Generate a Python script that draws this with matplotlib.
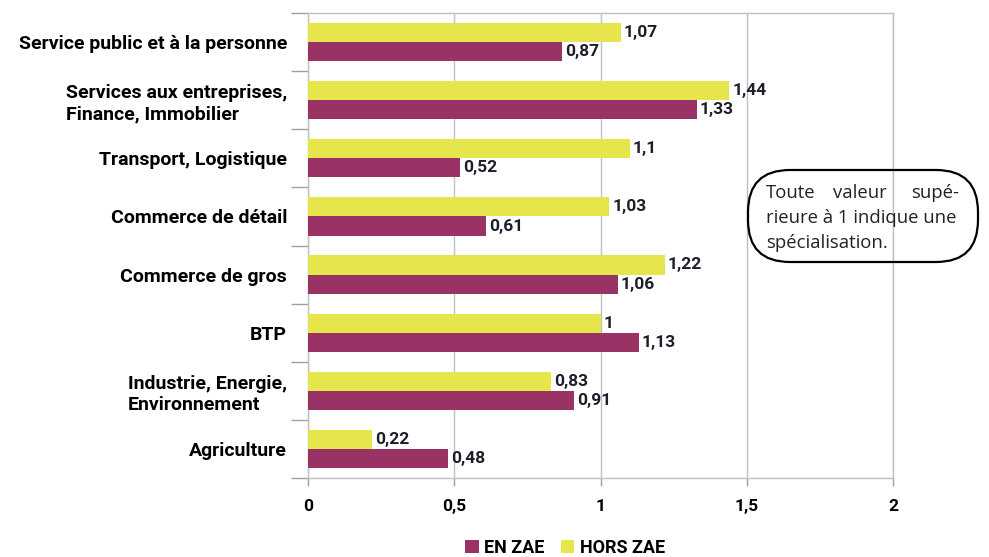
import numpy as np
import matplotlib.pyplot as plt
from matplotlib.patches import FancyBboxPatch
from matplotlib.transforms import IdentityTransform

categories = ["Service public et à la personne",
              "Services aux entreprises,\nFinance, Immobilier",
              "Transport, Logistique",
              "Commerce de détail",
              "Commerce de gros",
              "BTP",
              "Industrie, Energie,\nEnvironnement",
              "Agriculture"]
hors_zae = [1.07, 1.44, 1.1, 1.03, 1.22, 1, 0.83, 0.22]
en_zae = [0.87, 1.33, 0.52, 0.61, 1.06, 1.13, 0.91, 0.48]
xticks = [0, 0.5, 1, 1.5, 2]

col_en = "#993366"
col_hors = "#e6e64c"
narrow = ["Roboto", "DejaVu Sans"]

def fmt(v):
    return ("%g" % v).replace(".", ",")

fig = plt.figure(figsize=(9.89, 5.57), dpi=100)
ax = fig.add_axes([308/989, 1-478/557, (893-308)/989, (478-13)/557])

n = len(categories)
y = np.arange(n)[::-1]
h = 0.33
ax.barh(y + h/2, hors_zae, height=h, color=col_hors, label="HORS ZAE", zorder=3)
ax.barh(y - h/2, en_zae, height=h, color=col_en, label="EN ZAE", zorder=3)

for yi, v in zip(y, hors_zae):
    ax.text(v + 0.01, yi + h/2, fmt(v), va="center", ha="left", fontsize=12.5,
            fontweight="bold", family=narrow, color="#1c1e2a")
for yi, v in zip(y, en_zae):
    ax.text(v + 0.01, yi - h/2, fmt(v), va="center", ha="left", fontsize=12.5,
            fontweight="bold", family=narrow, color="#1c1e2a")

ax.set_xlim(0, 2)
ax.set_ylim(-0.5, n - 0.5)
ax.set_xticks(xticks)
ax.set_xticklabels([fmt(v) for v in xticks], fontsize=12.5, fontweight="bold", family=narrow)
ax.set_yticks(y)
ax.set_yticklabels(categories, fontsize=14, fontweight="bold", family=narrow, linespacing=1.25)
for lbl in ax.get_yticklabels():
    lbl.set_multialignment("left")
ax.set_yticks(np.arange(n + 1) - 0.5, minor=True)
ax.tick_params(axis="y", which="major", length=0, pad=15)
ax.tick_params(axis="y", which="minor", length=12, color="#a0a0a0", width=1)
ax.tick_params(axis="x", length=6, color="#a0a0a0", width=1, pad=9)
ax.grid(axis="x", color="#c0c0c0", linewidth=1, zorder=0)
for sp in ax.spines.values():
    sp.set_color("#c0c0c0")
    sp.set_linewidth(1)

# note box, drawn in pixels
box = FancyBboxPatch((748, 557-262), 978-748, 262-170,
                     boxstyle="round,pad=0,rounding_size=42", transform=IdentityTransform(),
                     facecolor="none", edgecolor="black", linewidth=1.6, zorder=5)
fig.patches.append(box)
tc = "#222222"
fy = 1 - 193/557
fig.text(766/989, fy, "Toute", fontsize=13.3, ha="left", va="center", family="Open Sans", color=tc)
fig.text(860/989, fy, "valeur", fontsize=13.3, ha="center", va="center", family="Open Sans", color=tc)
fig.text(959/989, fy, "supé-", fontsize=13.3, ha="right", va="center", family="Open Sans", color=tc)
fig.text(766/989, 1 - 218/557, "rieure à 1 indique une", fontsize=13.3, ha="left", va="center",
         family="Open Sans", color=tc)
fig.text(766/989, 1 - 243/557, "spécialisation.", fontsize=13.3, ha="left", va="center",
         family="Open Sans", color=tc)

handles, labels = ax.get_legend_handles_labels()
leg = fig.legend(handles[::-1], labels[::-1], loc="center", bbox_to_anchor=(565/989, 1-548/557),
                 ncol=2, frameon=False, prop={"family": narrow, "weight": "bold", "size": 13},
                 handlelength=0.75, handleheight=0.75, handletextpad=0.3, columnspacing=0.9)

fig.savefig("out.png", dpi=100)
